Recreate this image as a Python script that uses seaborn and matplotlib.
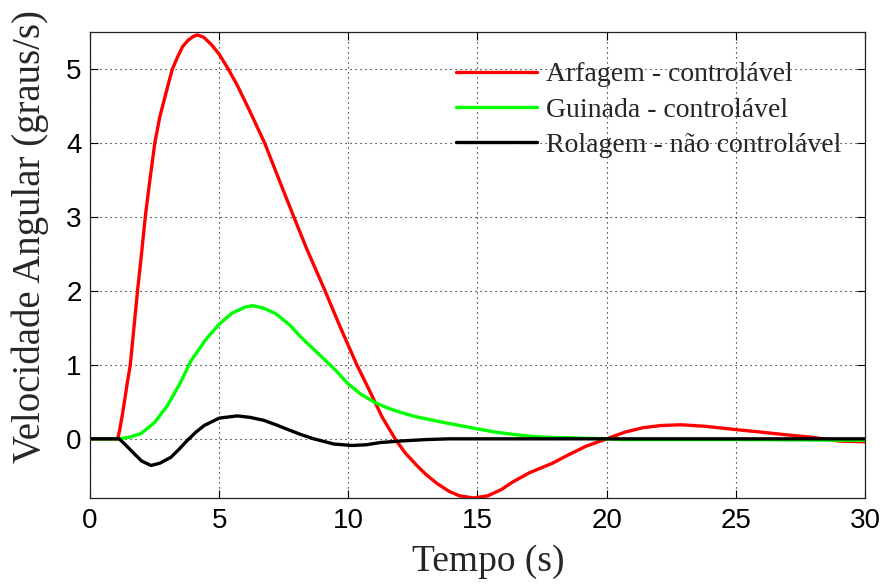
import matplotlib
matplotlib.use("Agg")
import matplotlib.pyplot as plt
import seaborn as sns
import numpy as np

# Arfagem (pitch) - controlavel
t_arfagem = [0, 1.0, 1.07, 1.15, 1.25, 1.35, 1.45, 1.56, 1.7, 1.84, 2.0, 2.14, 2.3, 2.51, 2.7, 2.9,
             3.05, 3.19, 3.4, 3.58, 3.8, 4.0, 4.16, 4.4, 4.7, 5.0, 5.35, 5.7, 6.2, 6.76, 7.3,
             7.89, 8.4, 9.1, 9.7, 10.33, 10.85, 11.3, 11.81, 12.2, 12.65, 13.0, 13.42,
             13.9, 14.3, 14.85, 15.4, 15.9, 16.38, 17.0, 17.9, 18.5, 19.2, 20.0, 20.7,
             21.4, 22.1, 22.88, 23.8, 25.0, 26.0, 26.8, 27.96, 29.0, 30.0]
v_arfagem = [0, 0, 0, 0.12, 0.32, 0.54, 0.77, 1.0, 1.5, 2.0, 2.52, 3.0, 3.45, 4.0, 4.35, 4.62,
             4.82, 5.0, 5.17, 5.3, 5.39, 5.44, 5.46, 5.43, 5.33, 5.2, 5.0, 4.78, 4.42, 4.0, 3.52,
             3.0, 2.56, 2.0, 1.5, 1.0, 0.63, 0.3, 0.0, -0.19, -0.36, -0.48, -0.6,
             -0.71, -0.77, -0.8, -0.77, -0.69, -0.58, -0.46, -0.33, -0.22, -0.1, 0.0, 0.09,
             0.15, 0.18, 0.19, 0.17, 0.125, 0.09, 0.06, 0.02, -0.03, -0.04]

# Guinada (yaw) - controlavel
t_guinada = [0, 1.13, 1.5, 1.97, 2.5, 3.0, 3.5, 3.9, 4.5, 5.0, 5.5, 6.0, 6.28, 6.7, 7.2,
             7.76, 8.15, 8.6, 9.05, 9.5, 10.0, 10.5, 11.04, 11.5, 12.0, 12.6, 13.29, 14.0,
             15.0, 15.7, 16.5, 17.2, 17.8, 18.96, 20.0, 20.6, 25.0, 30.0]
v_guinada = [0, 0, 0.02, 0.07, 0.22, 0.45, 0.76, 1.05, 1.35, 1.55, 1.7, 1.78, 1.8, 1.77, 1.69,
             1.53, 1.38, 1.23, 1.08, 0.93, 0.74, 0.6, 0.49, 0.42, 0.36, 0.3, 0.25, 0.2,
             0.135, 0.09, 0.055, 0.03, 0.02, 0.01, 0.0, -0.01, -0.01, -0.02]

# Rolagem (roll) - nao controlavel
t_rolagem = [0, 1.13, 1.4, 1.71, 2.0, 2.36, 2.7, 3.13, 3.45, 3.77, 4.1, 4.42, 5.0, 5.7, 6.2,
             6.73, 7.2, 7.63, 8.15, 8.66, 9.0, 9.43, 10.14, 10.7, 11.24, 12.0, 13.0, 13.9,
             15.0, 20.0, 25.0, 30.0]
v_rolagem = [0, 0, -0.09, -0.2, -0.3, -0.36, -0.33, -0.25, -0.14, -0.02, 0.09, 0.18, 0.28, 0.31, 0.29,
             0.25, 0.19, 0.13, 0.06, 0.0, -0.03, -0.07, -0.09, -0.08, -0.05, -0.03, -0.01, 0.0,
             0.0, 0.0, 0.0, 0.0]

labels = ["Arfagem - controlável", "Guinada - controlável", "Rolagem - não controlável"]
colors = ["#ff0000", "#00ff00", "#000000"]

sns.set_style("ticks")
plt.rcParams["font.family"] = ["Liberation Sans", "DejaVu Sans"]

fig = plt.figure(figsize=(8.84, 5.87), dpi=100)
ax = fig.add_axes([0.1018, 0.1516, 0.8767, 0.7939])

series = [(t_arfagem, v_arfagem), (t_guinada, v_guinada), (t_rolagem, v_rolagem)]
for (t, v), lab, c in zip(series, labels, colors):
    sns.lineplot(x=t, y=v, ax=ax, color=c, linewidth=2.4, label=lab, sort=False)

ax.set_xlim(0, 30)
ax.set_ylim(-0.8, 5.5)
ax.set_xticks([0, 5, 10, 15, 20, 25, 30])
ax.set_yticks([0, 1, 2, 3, 4, 5])
ax.grid(True, color="black", linestyle=(0, (1, 3.5)), linewidth=0.8)
ax.tick_params(direction="in", length=6, width=0.8, top=True, right=True,
               labelsize=20, colors="black")
ax.tick_params(axis="x", pad=7)
ax.tick_params(axis="y", pad=6)
for s in ax.spines.values():
    s.set_color("#222222")
    s.set_linewidth(0.9)

ax.set_xlabel("Tempo (s)", fontsize=27, family="Liberation Serif")
ax.set_ylabel("Velocidade Angular (graus/s)", fontsize=28, family="Liberation Serif")
ax.xaxis.set_label_coords(0.514, -0.137)
ax.yaxis.set_label_coords(-0.077, 0.562)
ax.xaxis.label.set_va("center")
ax.yaxis.label.set_va("center")

ax.legend(loc="upper right", bbox_to_anchor=(0.97, 0.936), frameon=False,
          prop={"family": "Liberation Serif", "size": 20}, handlelength=2.9,
          handletextpad=0.35, labelspacing=0.36, borderaxespad=0, borderpad=0)

fig.savefig("out.png", dpi=100)
